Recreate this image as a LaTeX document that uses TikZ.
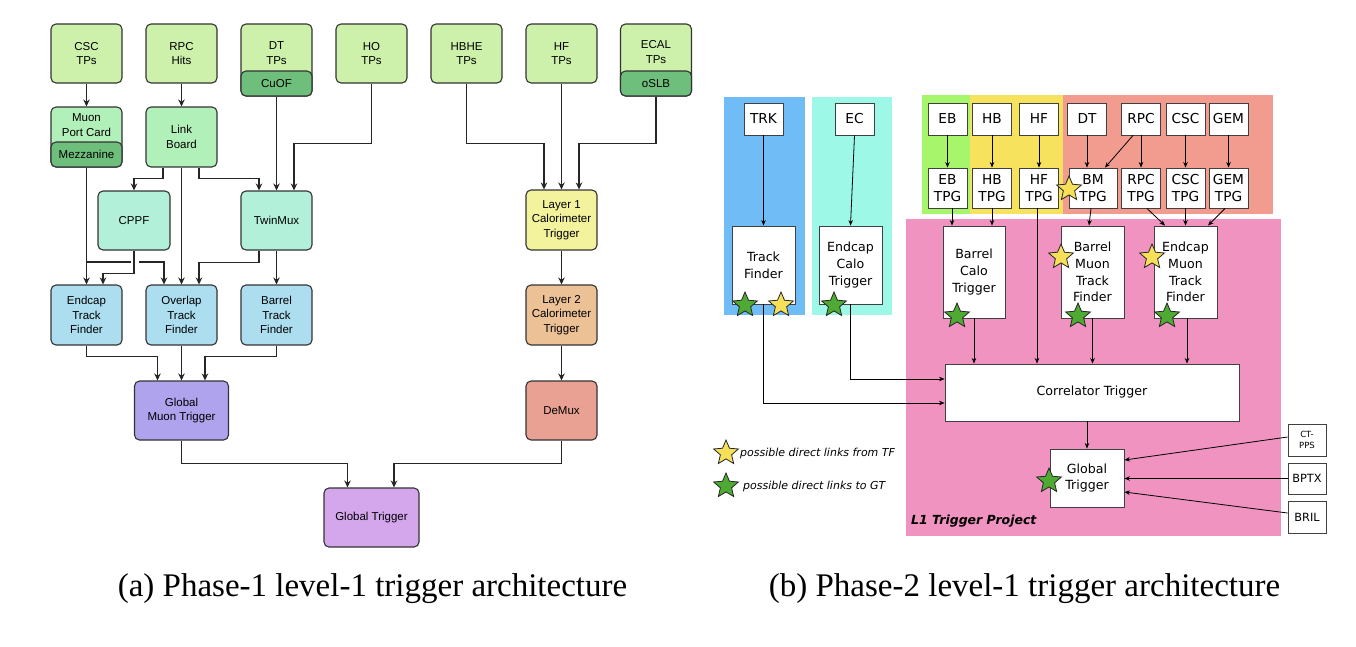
\documentclass[tikz,border=0pt]{standalone}
\usepackage{fontspec}
\setmainfont{Liberation Serif}
\newfontfamily\arialf{Liberation Sans}
\newfontfamily\dvs{DejaVu Sans}
\usetikzlibrary{arrows.meta,shapes.geometric}
\definecolor{tpg}{RGB}{205,241,170}
\definecolor{stripg}{RGB}{110,190,124}
\definecolor{mpcg}{RGB}{178,240,186}
\definecolor{mint}{RGB}{178,240,218}
\definecolor{tfblue}{RGB}{172,222,240}
\definecolor{gmtc}{RGB}{174,163,236}
\definecolor{gtc}{RGB}{212,166,236}
\definecolor{layone}{RGB}{243,243,158}
\definecolor{laytwo}{RGB}{236,193,150}
\definecolor{demuxc}{RGB}{232,161,147}
\definecolor{bgblue}{RGB}{112,188,246}
\definecolor{bgcyan}{RGB}{158,248,231}
\definecolor{bggreen}{RGB}{166,245,107}
\definecolor{bgyellow}{RGB}{246,226,92}
\definecolor{bgsalmon}{RGB}{242,156,143}
\definecolor{bgpink}{RGB}{240,147,192}
\definecolor{staryel}{RGB}{246,224,90}
\definecolor{stargrn}{RGB}{78,170,50}
\begin{document}
\begin{tikzpicture}[x=1pt,y=-1pt,
  lbox/.style={draw=black!80, line width=1.1pt, rounded corners=5pt, minimum width=71pt, minimum height=59pt, inner sep=0pt, align=center, font=\arialf\fontsize{11.5}{14.5}\selectfont},
  lbl/.style={inner sep=0pt, align=center, font=\arialf\fontsize{11.5}{14.5}\selectfont},
  arr/.style={-{Stealth[length=7pt,width=6.5pt]}, line width=1.1pt, draw=black!85},
  pln/.style={line width=1.1pt, draw=black!85},
  rbox/.style={draw=black!75, line width=0.9pt, fill=white, inner sep=0pt, minimum width=39pt, minimum height=32pt, align=center, font=\dvs\fontsize{13.7}{16.7}\selectfont},
  bbox/.style={draw=black!75, line width=0.9pt, fill=white, inner sep=0pt, align=center, font=\dvs\fontsize{12.6}{16.8}\selectfont},
  rarr/.style={-{Stealth[length=5.5pt,width=4.5pt]}, line width=0.8pt, draw=black},
  ystar/.style={star, star points=5, star point ratio=2.2, minimum size=26pt, inner sep=0pt, draw=black!85, line width=0.8pt, fill=staryel},
  gstar/.style={ystar, fill=stargrn}]
\useasboundingbox (0,0) rectangle (1356,646);
% ================= LEFT PANEL =================
\node[lbox, fill=tpg] (csc) at (86.5,53.5) {CSC\\TPs};
\node[lbox, fill=tpg] (rpc) at (181.5,53.5) {RPC\\Hits};
\node[lbox, fill=tpg, minimum height=72pt] (dt) at (276.5,60) {};
\node[lbl] (dtl) at (276.5,53) {DT\\TPs};
\node[lbox, fill=stripg, minimum height=25pt] (cuof) at (276.5,83.5) {CuOF};
\node[lbox, fill=tpg] (ho) at (371.5,53.5) {HO\\TPs};
\node[lbox, fill=tpg] (hbhe) at (466.5,53.5) {HBHE\\TPs};
\node[lbox, fill=tpg] (hf) at (561.5,53.5) {HF\\TPs};
\node[lbox, fill=tpg, minimum height=72pt] (ecal) at (656,60) {};
\node[lbl] (ecall) at (656,52) {ECAL\\TPs};
\node[lbox, fill=stripg, minimum height=25pt] (oslb) at (656,83.5) {oSLB};
\node[lbox, fill=mpcg, minimum height=60pt] (mpc) at (86.5,137) {};
\node[lbl] (mpcl) at (86.5,125) {Muon\\Port Card};
\node[lbox, fill=stripg, minimum height=25pt] (mezz) at (86.5,154.5) {Mezzanine};
\node[lbox, fill=mpcg, minimum height=60pt] (lb) at (181.5,137) {Link\\Board};
\node[lbox, fill=mint, minimum width=72pt] (cppf) at (134,220.5) {CPPF};
\node[lbox, fill=mint] (twinmux) at (276.5,220.5) {TwinMux};
\node[lbox, fill=tfblue, minimum height=60pt] (etf) at (86.5,315) {Endcap\\Track\\Finder};
\node[lbox, fill=tfblue, minimum height=60pt] (otf) at (181.5,315) {Overlap\\Track\\Finder};
\node[lbox, fill=tfblue, minimum height=60pt] (btf) at (276.5,315) {Barrel\\Track\\Finder};
\node[lbox, fill=gmtc, minimum width=94pt] (gmt) at (181.5,410.5) {Global\\Muon Trigger};
\node[lbox, fill=gtc, minimum width=95pt] (gtone) at (371.5,517.5) {Global Trigger};
\node[lbox, fill=layone, minimum height=60pt] (lone) at (561.5,220) {Layer 1\\Calorimeter\\Trigger};
\node[lbox, fill=laytwo, minimum height=60pt] (ltwo) at (561.5,315) {Layer 2\\Calorimeter\\Trigger};
\node[lbox, fill=demuxc] (demux) at (561.5,410.5) {DeMux};
% left connectors
\draw[arr] (csc.south) -- (mpc.north);
\draw[arr] (rpc.south) -- (lb.north);
\draw[arr] ([xshift=-18.5pt]lb.south) -- ++(0,11) -| (cppf.north);
\draw[arr] (lb.south) -- (otf.north);
\draw[arr] ([xshift=17.5pt]lb.south) -- ++(0,11) -| ([xshift=-17.5pt]twinmux.north);
\draw[arr] (cuof.south) -- (twinmux.north);
\draw[arr] (ho.south) -- ++(0,60) -| ([xshift=17.5pt]twinmux.north);
\draw[arr] (mezz.south) -- (etf.north);
\coordinate (jm) at (86.5,262);
\coordinate (jg) at (138.5,262);
\draw[pln] (jm) -- (130.5,262);
\draw[arr] (jg) -| ([xshift=-17.5pt]otf.north);
\draw[arr] (cppf.south) -- ++(0,23) -| ([xshift=16.5pt]etf.north);
\draw[arr] ([xshift=-17.5pt]twinmux.south) -- ++(0,12) -| ([xshift=17.5pt]otf.north);
\draw[arr] (twinmux.south) -- (btf.north);
\draw[arr] (etf.south) -- ++(0,11) -| ([xshift=-24pt]gmt.north);
\draw[arr] (otf.south) -- (gmt.north);
\draw[arr] (btf.south) -- ++(0,11) -| ([xshift=23.5pt]gmt.north);
\draw[arr] (gmt.south) -- ++(0,23) -| ([xshift=-24pt]gtone.north);
\draw[arr] (demux.south) -- ++(0,23) -| ([xshift=22.5pt]gtone.north);
\draw[arr] (hbhe.south) -- ++(0,60) -| ([xshift=-17.5pt]lone.north);
\draw[arr] (hf.south) -- (lone.north);
\draw[arr] (oslb.south) -- ++(0,47) -| ([xshift=17.5pt]lone.north);
\draw[arr] (lone.south) -- (ltwo.north);
\draw[arr] (ltwo.south) -- (demux.north);
% ================= RIGHT PANEL =================
\fill[bgblue] (724,97) rectangle (805,315);
\fill[bgcyan] (812,97) rectangle (892,315);
\fill[bggreen] (922,95) rectangle (970,214);
\fill[bgyellow] (970,95) rectangle (1063,214);
\fill[bgsalmon] (1063,95) rectangle (1273,214);
\fill[bgpink] (906,219) rectangle (1281,536);
\node[rbox] (trk) at (763.5,119) {TRK};
\node[rbox] (ec) at (854.5,119) {EC};
\node[rbox] (eb) at (947.5,119) {EB};
\node[rbox] (hb) at (992,119) {HB};
\node[rbox] (hfb) at (1039,119) {HF};
\node[rbox] (dtb) at (1087,119) {DT};
\node[rbox] (rpcb) at (1141,119) {RPC};
\node[rbox] (cscb) at (1185.5,119) {CSC};
\node[rbox] (gemb) at (1228.5,119) {GEM};
\node[rbox, minimum height=40pt] (ebt) at (947.5,188) {EB\\TPG};
\node[rbox, minimum height=40pt] (hbt) at (992,188) {HB\\TPG};
\node[rbox, minimum height=40pt] (hft) at (1039,188) {HF\\TPG};
\node[rbox, minimum height=40pt, minimum width=48pt] (bmt) at (1093,188) {BM\\TPG};
\node[rbox, minimum height=40pt] (rpct) at (1141,188) {RPC\\TPG};
\node[rbox, minimum height=40pt] (csct) at (1185.5,188) {CSC\\TPG};
\node[rbox, minimum height=40pt] (gemt) at (1228.5,188) {GEM\\TPG};
\node[bbox, minimum width=63pt, minimum height=78pt] (tf) at (763.5,265) {Track\\Finder};
\node[bbox, minimum width=63pt, minimum height=78pt] (ect) at (850.5,265) {Endcap\\Calo\\Trigger};
\node[bbox, minimum width=62pt, minimum height=92pt] (bct) at (974,272) {Barrel\\Calo\\Trigger};
\node[bbox, minimum width=63pt, minimum height=92pt] (bmtf) at (1092.5,272) {Barrel\\Muon\\Track\\Finder};
\node[bbox, minimum width=63pt, minimum height=92pt] (emtf) at (1185.5,272) {Endcap\\Muon\\Track\\Finder};
\node[bbox, minimum width=294pt, minimum height=57pt] (corr) at (1092,392.5) {Correlator Trigger};
\node[bbox, minimum width=74pt, minimum height=58pt] (gttwo) at (1087,478) {Global\\Trigger};
\node[rbox, minimum width=38pt, font=\dvs\fontsize{8.5}{11}\selectfont] (ctpps) at (1307,440) {CT-\\PPS};
\node[rbox, minimum width=38pt, minimum height=31pt, font=\dvs\fontsize{11.3}{13}\selectfont] (bptx) at (1307,478.5) {BPTX};
\node[rbox, minimum width=38pt, font=\dvs\fontsize{11.3}{13}\selectfont] (bril) at (1307,517) {BRIL};
% right connectors
\draw[rarr] (trk.south) -- (tf.north);
\draw[rarr] (ec.south) -- (ect.north);
\draw[rarr] (eb.south) -- (ebt.north);
\draw[rarr] (hb.south) -- (hbt.north);
\draw[rarr] (hfb.south) -- (hft.north);
\draw[rarr] (dtb.south) -- ([xshift=-6pt]bmt.north);
\draw[rarr] ([xshift=-8pt]rpcb.south) -- ([xshift=12pt]bmt.north);
\draw[rarr] (rpcb.south) -- (rpct.north);
\draw[rarr] (cscb.south) -- (csct.north);
\draw[rarr] (gemb.south) -- (gemt.north);
\draw[rarr] ([xshift=4.5pt]ebt.south) -- ([xshift=-22pt]bct.north);
\draw[rarr] (hbt.south) -- ([xshift=18pt]bct.north);
\draw[rarr] ([xshift=-2pt]hft.south) -- ([xshift=-55pt]corr.north);
\draw[rarr] ([xshift=-2pt]bmt.south) -- ([xshift=-3.5pt]bmtf.north);
\draw[rarr] ([xshift=6pt]rpct.south) -- ([xshift=-20.5pt]emtf.north);
\draw[rarr] (csct.south) -- (emtf.north);
\draw[rarr] ([xshift=-3.5pt]gemt.south) -- ([xshift=22.5pt]emtf.north);
\draw[rarr] (bct.south) -- (bct.south |- corr.north);
\draw[rarr] (bmtf.south) -- (bmtf.south |- corr.north);
\draw[rarr] ([xshift=1.5pt]emtf.south) -- ([xshift=1.5pt]emtf.south |- corr.north);
\draw[rarr] (ect.south) |- ([yshift=13.5pt]corr.west);
\draw[rarr] (tf.south) |- ([yshift=-10.5pt]corr.west);
\draw[rarr] (gttwo.north |- corr.south) -- (gttwo.north);
\draw[rarr] ([yshift=3pt]ctpps.west) -- ([yshift=18pt]gttwo.east);
\draw[rarr] (bptx.west) -- (gttwo.east |- bptx.west);
\draw[rarr] ([yshift=4pt]bril.west) -- ([yshift=-14pt]gttwo.east);
% stars
\node[gstar] (s1) at (745,305) {};
\node[ystar] (s2) at (781,305) {};
\node[gstar] (s3) at (834,305) {};
\node[gstar] (s4) at (957,316) {};
\node[ystar] (s5) at (1069,189) {};
\node[ystar] (s6) at (1061,257) {};
\node[gstar] (s7) at (1078,316) {};
\node[ystar] (s8) at (1152,257) {};
\node[gstar] (s9) at (1167,316) {};
\node[gstar] (s10) at (1049,481) {};
\node[ystar] (ls1) at (726,453) {};
\node[gstar] (ls2) at (726,486) {};
\node[anchor=west, inner sep=0pt, font=\dvs\itshape\fontsize{11}{13}\selectfont] (lt1) at (740,453) {possible direct links from TF};
\node[anchor=west, inner sep=0pt, font=\dvs\itshape\fontsize{11}{13}\selectfont] (lt2) at (743,486) {possible direct links to GT};
\node[anchor=west, inner sep=0pt, font=\dvs\bfseries\itshape\fontsize{12.5}{14}\selectfont] (proj) at (911,521) {L1 Trigger Project};
% captions
\node[anchor=base, inner sep=0pt, font=\fontsize{33}{38}\selectfont] (capa) at (372.5,596) {(a) Phase-1 level-1 trigger architecture};
\node[anchor=base, inner sep=0pt, font=\fontsize{33}{38}\selectfont] (capb) at (1024.5,596) {(b) Phase-2 level-1 trigger architecture};
\end{tikzpicture}
\end{document}
